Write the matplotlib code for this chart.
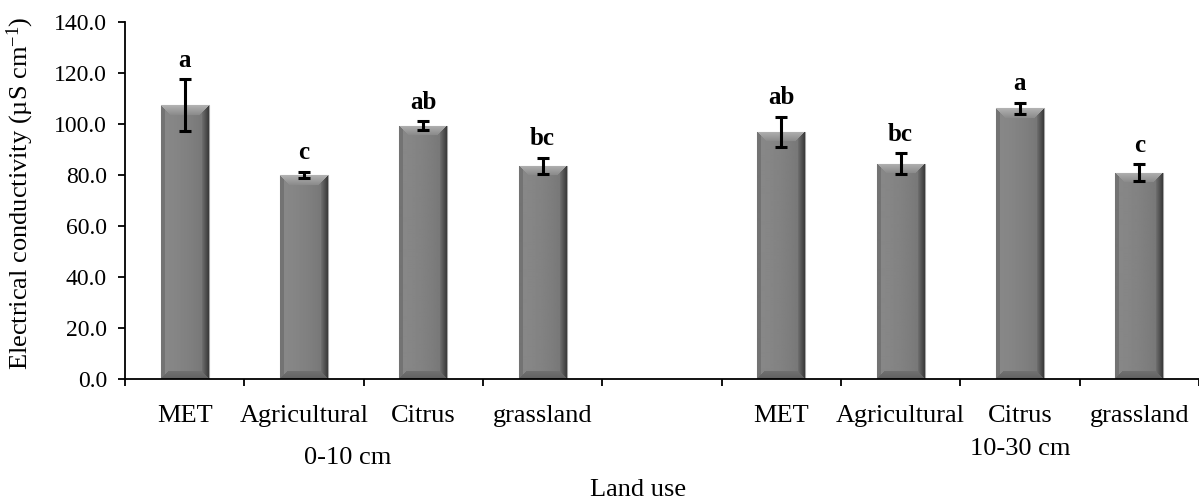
import matplotlib
matplotlib.use("Agg")
import matplotlib.pyplot as plt
import matplotlib.transforms as mtransforms
import numpy as np

plt.rcParams['font.family'] = ['Liberation Serif', 'DejaVu Serif']
plt.rcParams['mathtext.fontset'] = 'custom'
plt.rcParams['mathtext.rm'] = 'Liberation Serif'
plt.rcParams['mathtext.it'] = 'Liberation Serif'

# data
land_use = ['MET', 'Agricultural', 'Citrus', 'grassland', '',
            'MET', 'Agricultural', 'Citrus', 'grassland']
depths = ['0-10 cm', '10-30 cm']
ec_mean = [107.4, 80.0, 99.4, 83.6, np.nan, 97.0, 84.4, 106.2, 80.9]
ec_err = [10.2, 1.2, 1.6, 3.2, np.nan, 5.9, 4.1, 2.2, 3.4]
letters = ['a', 'c', 'ab', 'bc', '', 'ab', 'bc', 'a', 'c']

fig = plt.figure(figsize=(11.99, 5.0), dpi=100)
ax = fig.add_axes([125 / 1199, 1 - 379 / 500, 1 - 125 / 1199, 357 / 500])

x = np.arange(len(land_use))
ax.set_xlim(-0.5, len(land_use) - 0.5)
ax.set_ylim(0, 140)

bars = ax.bar(x, np.nan_to_num(ec_mean), width=0.4, color='#7f7f7f',
              edgecolor='#a5a5a5', linewidth=0.8, zorder=2)

# bevelled shading for each bar
fig.canvas.draw()
for b in bars:
    h = b.get_height()
    if h <= 0:
        continue
    x0, w = b.get_x(), b.get_width()
    p0 = ax.transData.transform((x0, 0))
    p1 = ax.transData.transform((x0 + w, h))
    W = int(round(p1[0] - p0[0]))
    H = int(round(p1[1] - p0[1]))
    u, v = np.meshgrid(np.arange(W) + 0.5, np.arange(H) + 0.5)
    dl, dr, dt, db = u, W - u, H - v, v
    bev = 10.0
    shade = 0.53 - 0.08 * (u / W) ** 2
    shade = np.where(dl < 4, 0.45, shade)
    top = (dt <= np.minimum(dl, dr)) & (dt < bev)
    bot = (db <= np.minimum(dl, dr)) & (db < bev * 0.8) & ~top
    right = (dr < bev * 0.7) & ~top & ~bot & (dr <= dl)
    shade = np.where(right, 0.22 + 0.22 * dr / (bev * 0.7), shade)
    shade = np.where(top, 0.70 - 0.16 * dt / bev, shade)
    shade = np.where(bot, 0.38 + 0.08 * db / bev, shade)
    img = ax.imshow(shade, cmap='gray', vmin=0, vmax=1, origin='lower',
                    extent=(x0, x0 + w, 0, h), aspect='auto', zorder=2.5,
                    interpolation='bilinear')
    img.set_clip_path(b)

ax.errorbar(x, ec_mean, yerr=ec_err, fmt='none', ecolor='black',
            elinewidth=2.2, capsize=4, capthick=2.2, zorder=4)

for xi, m, e, t in zip(x, ec_mean, ec_err, letters):
    if t:
        ax.annotate(t, (xi, m + e), xytext=(0, 9), textcoords='offset points',
                    ha='center', va='baseline', fontsize=18, fontweight='bold')

ax.set_xlim(-0.5, len(land_use) - 0.5)
ax.set_ylim(0, 140)

# axes styling
ax.spines['top'].set_visible(False)
ax.spines['right'].set_visible(False)
ax.spines['left'].set_linewidth(1.3)
ax.spines['bottom'].set_linewidth(1.3)

ax.set_yticks(np.arange(0, 141, 20))
ax.set_yticklabels(['%.1f' % v for v in np.arange(0, 141, 20)], fontsize=17)
ax.tick_params(axis='y', direction='out', length=5, width=1.3, pad=8)

ax.set_xticks(np.arange(-0.5, len(land_use)), minor=False)
ax.set_xticklabels([])
ax.tick_params(axis='x', which='major', direction='out', length=5, width=1.3)
ax.set_xticks(x, minor=True)
ax.set_xticklabels(land_use, minor=True, fontsize=19)
ax.tick_params(axis='x', which='minor', length=0, pad=19)

trans = mtransforms.blended_transform_factory(ax.transData, ax.transAxes)
ax.text(1.37, -0.222, depths[0], transform=trans, ha='center', va='center', fontsize=19)
ax.text(7.0, -0.196, depths[1], transform=trans, ha='center', va='center', fontsize=19)

ax.set_xlabel('Land use', fontsize=19, va='center')
ax.xaxis.set_label_coords(0.478, -0.311)
ax.set_ylabel('Electrical conductivity (µS cm$^{-1}$)', fontsize=19, va='center')
ax.yaxis.set_label_coords(-0.097, 0.52)

fig.savefig('out.png', dpi=100)
